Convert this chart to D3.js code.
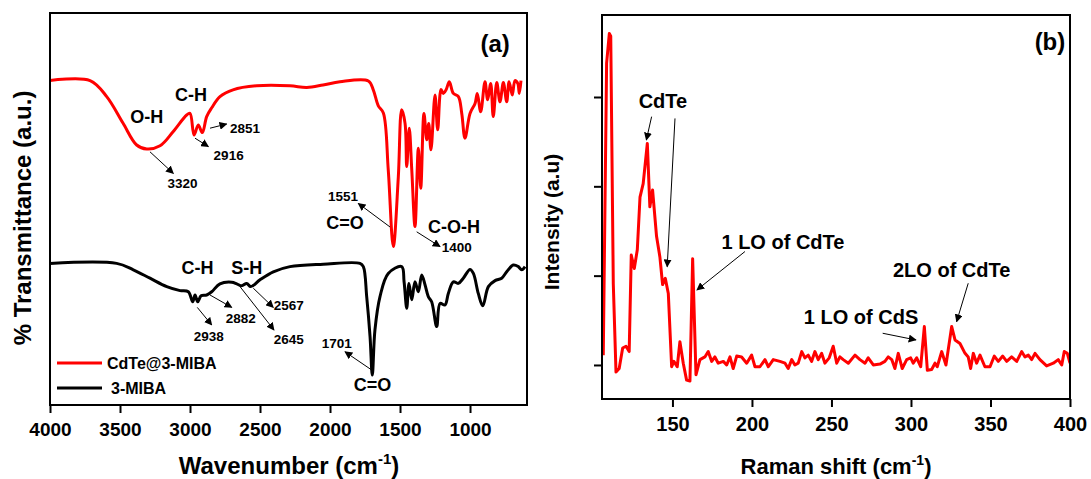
<!DOCTYPE html>
<html>
<head>
<meta charset="utf-8">
<script src="https://cdn.jsdelivr.net/npm/d3@7"></script>
<style>
  body { margin: 0; background: #fff; }
  text { font-family: "Liberation Sans", Arial, sans-serif; font-weight: bold; fill: #000; }
</style>
</head>
<body>
<svg id="chart" width="1091" height="479"></svg>
<script>
// ---- FTIR (panel a) ----
const wn_red = [4000,3714,3595,3479,3381,3309,3214,3121,3024,3000,2971,2941,2912,2881,2845,2786,2693,2524,2286,2166,2050,1929,1726,1691,1655,1619,1584,1548,1512,1488,1464,1452,1434,1416,1393,1369,1352,1329,1309,1295,1279,1250,1231,1207,1191,1171,1148,1119,1083,1059,1036,1000,964,948,924,893,874,852,834,809,786,762,738,721,698,679,659,648,636]
const tr_red = [81.1,81.1,77.1,70.5,65,64,64.8,68.3,72.5,72.9,67.5,70,68.1,72.1,74.3,77.1,78.8,79.8,79.8,79.4,80,80.8,81,78.8,74.8,73,58.8,39.6,57.1,73.8,70.4,59.6,69.2,58.8,44.6,64.2,54.2,72.9,66.3,70.4,63.8,77.5,68.8,78.9,77.9,78.8,80.8,77.9,77.1,72.9,66.7,72.9,75.4,77.9,73.3,80.8,76.3,80.4,72.1,80.6,75.8,80.6,75.8,80.8,77.5,81.1,80.4,77.9,81.1]

const wn_black = [4000,3524,3405,3286,3166,3071,3012,2981,2964,2945,2921,2881,2845,2786,2702,2666,2631,2595,2566,2500,2405,2286,2048,1786,1762,1738,1714,1698,1679,1643,1584,1488,1471,1452,1436,1416,1393,1369,1345,1321,1298,1274,1238,1214,1179,1155,1119,1084,1048,1000,976,941,909,869,821,774,738,691,655,631,607]
const tr_black = [35.4,35.4,33.8,31.7,29.6,28.6,28.3,25.8,27.5,25.8,27.3,27.5,28.3,30.3,30.7,30.3,29.8,30.4,29.6,31.3,33.3,34.6,35.2,35.4,34.6,27.1,17.1,7.5,18.8,27.1,32.9,34.6,30.8,24.2,30.4,26.3,30.8,28.3,32.5,30,27.1,25.8,19.6,25.4,25,27.9,30.8,30.4,31.7,33.9,32.9,27.9,24.8,29.6,31.1,31.7,33.3,35,34.6,33.8,34.6]

const wn_ticks = [4000,3500,3000,2500,2000,1500,1000]
const series_names = ["CdTe@3-MIBA", "3-MIBA"]

// [label, x, y, size]
const ftir_labels = [
  ["O-H", 3309, 72.1, 18], ["C-H", 2993, 77.5, 18],
  ["2851", 2607, 69.2, 13.5], ["2916", 2724, 62.5, 13.5], ["3320", 3054, 55.4, 13.5],
  ["1551", 1907, 52.1, 13.5], ["C=O", 1893, 45.7, 18], ["C-O-H", 1114, 44.6, 18], ["1400", 1095, 39.4, 13.5],
  ["C-H", 2946, 34.3, 18], ["S-H", 2595, 34.3, 18],
  ["2567", 2295, 25, 13.5], ["2882", 2637, 21.7, 13.5], ["2645", 2295, 16.4, 13.5], ["2938", 2866, 17.1, 13.5],
  ["1701", 1952, 15.4, 13.5], ["C=O", 1696, 5, 18], ["(a)", 821, 90.5, 24]
]
// [x1, y1, x2, y2] arrow from curve to label
const ftir_arrows = [
  [2857, 69.2, 2738, 70.25], [2964, 66.7, 2869, 64.6], [3286, 63.3, 3119, 57.9],
  [1571, 44.5, 1798, 50.4], [1381, 43.3, 1214, 39.6],
  [2548, 29.2, 2405, 24.4], [2857, 27.5, 2702, 24.4], [2643, 29.6, 2400, 18.75],
  [2948, 24.4, 2845, 20], [1702, 8.75, 1893, 13.3]
]

// ---- Raman (panel b) ----
const raman_shift = [106.5,108.6,110.3,111.2,112.8,114.5,116.5,118.7,120.8,122.8,124.1,126,127.9,129.6,131.6,134.2,135.8,137.5,140,142.1,143.8,145.5,147.4,149.5,150.9,153,154.7,156.8,158.9,161,162.7,164.8,167.3,170.4,172.5,174.7,176.7,178.8,182,184.1,186.2,188.2,190.4,193.5,196.7,199.8,201.9,205,208.2,210.3,213.4,217.6,220.8,222.8,225,227,229.1,231.3,233.3,235.4,237.5,239.6,241.7,243.8,245.9,248.6,251.1,253.3,255.3,257.4,260.6,264.8,267.9,271.1,273.1,276.3,280.5,283.6,285.7,287.9,289.9,292,294.5,297.3,299.8,301.4,303.6,306.1,308.4,310.3,313,315.1,316.5,319.3,322,325.6,327.7,330.8,334,336,337.5,339.2,341.3,343.4,346.5,349.7,352.4,354.9,357.7,360.2,363.3,366.5,369.6,371.7,373.8,375.9,378,381.1,385.3,389.5,392.6,394.8,396.4,398.3,400]
const raman_int = [0.11,3.38,3.71,3.68,0.91,-0.08,-0.04,0.19,0.21,0.15,
  1.23,1.08,1.29,1.88,2.03,2.48,1.77,1.96,1.44,1.21,
  0.9,0.97,0.8,-0.02,0.04,-0.02,0.26,0.02,-0.17,-0.18,
  1.19,-0.11,0.06,0.09,0.15,0.04,0.09,0.02,0.04,0,
  0.09,-0.04,0.1,0.09,0.02,0.11,-0.02,-0.02,0.06,-0.02,
  0.06,0.04,0.02,-0.04,0.06,0,0.02,0.15,0.08,0.11,
  0.04,0.15,0.06,0.13,0.02,0.08,0.21,0.02,0.09,0.06,
  0.02,0.11,0.06,0.02,0.08,0,0.01,0.04,0.09,0.06,
  -0.04,0.13,-0.04,0.06,0.08,0.02,0.08,-0.02,0.43,-0.06,
  -0.05,0.02,-0.02,0.15,0,0.43,0.28,0.24,0.13,0.09,
  -0.04,0.13,0.02,0.11,-0.02,-0.02,0.1,0.04,0.1,0.04,
  0.09,0.04,0.15,0.09,0.11,0.06,0.13,0.06,-0.01,0.02,
  0.06,0,0.15,0.13,0.02]

const rs_ticks = [150,200,250,300,350,400]
const int_ticks = [0,1,2,3]

const raman_labels = [
  ["CdTe", 144, 2.955, 20], ["1 LO of CdTe", 219.5, 1.38, 20],
  ["2LO of CdTe", 325.6, 1.06, 20], ["1 LO of CdS", 268.6, 0.54, 20], ["(b)", 387.4, 3.62, 24]
]
const raman_arrows = [
  [136.9, 2.78, 133.6, 2.52], [151.6, 2.76, 146.7, 1.10],
  [195.6, 1.27, 165.4, 0.84], [336, 0.915, 328.7, 0.485], [282.2, 0.355, 303.1, 0.28]
]

const svg = d3.select("#chart")
svg.append("rect").attr("width", 1091).attr("height", 479).attr("fill", "#fff")

svg.append("defs").append("marker")
  .attr("id", "head")
  .attr("viewBox", "0 0 10 10")
  .attr("refX", 9).attr("refY", 5)
  .attr("markerWidth", 8).attr("markerHeight", 8)
  .attr("markerUnits", "userSpaceOnUse")
  .attr("orient", "auto")
  .append("path").attr("d", "M0,0 L10,5 L0,10 Z").attr("fill", "#000")

function make_scales_a() {
  return {
    x: d3.scaleLinear().domain([4000, 593]).range([50, 527]),
    y: d3.scaleLinear().domain([0, 98]).range([405, 13])
  }
}

function make_scales_b() {
  return {
    x: d3.scaleLinear().domain([105.7, 400]).range([602, 1070]),
    y: d3.scaleLinear().domain([-0.381, 3.918]).range([399, 15])
  }
}

function draw_frame(g, s) {
  let [x0, x1] = s.x.range(), [y0, y1] = s.y.range()
  g.append("rect")
    .attr("x", x0).attr("y", y1)
    .attr("width", x1 - x0).attr("height", y0 - y1)
    .attr("fill", "none").attr("stroke", "#000").attr("stroke-width", 2)
}

function draw_line(g, xs, ys, s, color, clip, curve) {
  let pts = xs.map((x, i) => [x, ys[i]])
  let path_generator = d3.line()
    .curve(curve)
    .x(d => s.x(d[0]))
    .y(d => s.y(d[1]))
  g.append("path")
    .datum(pts)
    .attr("d", path_generator)
    .attr("clip-path", `url(#${clip})`)
    .attr("fill", "none")
    .attr("stroke", color)
    .attr("stroke-width", 3)
    .attr("stroke-linejoin", "round")
}

function add_clip(id, s) {
  let [x0, x1] = s.x.range(), [y0, y1] = s.y.range()
  svg.select("defs").append("clipPath").attr("id", id)
    .append("rect").attr("x", x0).attr("y", y1).attr("width", x1 - x0).attr("height", y0 - y1)
}

function draw_x_axis(g, s, ticks, minor, fontSize) {
  let y0 = s.y.range()[0]
  let ax = g.append("g").attr("transform", `translate(0, ${y0})`)
  ax.call(d3.axisBottom(s.x).tickValues(minor).tickSize(5).tickFormat(""))
  ax.call(d3.axisBottom(s.x).tickValues(ticks).tickSize(8).tickPadding(6).tickFormat(d3.format("d")))
  ax.select(".domain").remove()
  ax.selectAll("line").attr("stroke", "#000").attr("stroke-width", 2)
  ax.selectAll("text").attr("font-size", fontSize).attr("dy", "0.9em")
    .style("font-family", '"Liberation Sans", Arial, sans-serif').style("font-weight", "bold")
}

function draw_labels(g, s, labels) {
  g.selectAll(null).data(labels).enter().append("text")
    .attr("x", d => s.x(d[1]))
    .attr("y", d => s.y(d[2]))
    .attr("dy", "0.36em")
    .attr("text-anchor", "middle")
    .attr("font-size", d => d[3])
    .text(d => d[0])
}

function draw_arrows(g, s, arrows) {
  g.selectAll(null).data(arrows).enter().append("line")
    .attr("x1", d => s.x(d[0])).attr("y1", d => s.y(d[1]))
    .attr("x2", d => s.x(d[2])).attr("y2", d => s.y(d[3]))
    .attr("stroke", "#000").attr("stroke-width", 1)
    .attr("marker-end", "url(#head)")
}

function axis_title(x, y, size, main, rotate) {
  let t = svg.append("text")
    .attr("text-anchor", "middle")
    .attr("font-size", size)
    .attr("transform", `translate(${x}, ${y})` + (rotate ? " rotate(-90)" : ""))
  t.append("tspan").text(main)
  return t
}

function visualize_a() {
  let s = make_scales_a()
  let g = svg.append("g")
  add_clip("clipA", s)
  let smooth = d3.curveCatmullRom.alpha(0.5)
  draw_line(g, wn_red, tr_red, s, "#ff0000", "clipA", smooth)
  draw_line(g, wn_black, tr_black, s, "#000000", "clipA", smooth)
  draw_frame(g, s)
  let minor = d3.range(3750, 593, -500)
  draw_x_axis(g, s, wn_ticks, minor, 19)
  draw_labels(g, s, ftir_labels)
  draw_arrows(g, s, ftir_arrows)

  // legend
  let lg = g.append("g")
  let colors = ["#ff0000", "#000000"]
  series_names.forEach((name, i) => {
    let yy = 363 + i * 25
    lg.append("line").attr("x1", 57).attr("x2", 102).attr("y1", yy).attr("y2", yy)
      .attr("stroke", colors[i]).attr("stroke-width", 3)
    lg.append("text").attr("x", 107 + i * 4).attr("y", yy).attr("dy", "0.36em")
      .attr("font-size", 16).text(name)
  })

  let t = axis_title(289, 474, 24, "Wavenumber (cm")
  t.append("tspan").attr("font-size", 15).attr("dy", -10).text("-1")
  t.append("tspan").attr("dy", 10).text(")")
  axis_title(31, 218, 24, "% Transmittance (a.u.)", true)
}

function visualize_b() {
  let s = make_scales_b()
  let g = svg.append("g")
  add_clip("clipB", s)
  draw_line(g, raman_shift, raman_int, s, "#ff0000", "clipB", d3.curveLinear)
  draw_frame(g, s)
  draw_x_axis(g, s, rs_ticks, [125, 175, 225, 275, 325, 375], 20)

  let ay = g.append("g").attr("transform", `translate(${s.x.range()[0]}, 0)`)
  ay.call(d3.axisLeft(s.y).tickValues(int_ticks).tickSize(8).tickFormat(""))
  ay.select(".domain").remove()
  ay.selectAll("line").attr("stroke", "#000").attr("stroke-width", 2)

  draw_labels(g, s, raman_labels)
  draw_arrows(g, s, raman_arrows)

  let t = axis_title(836, 474, 22, "Raman shift (cm")
  t.append("tspan").attr("font-size", 14).attr("dy", -9).text("-1")
  t.append("tspan").attr("dy", 9).text(")")
  axis_title(559, 222, 21, "Intensity (a.u)", true)
}

visualize_a()
visualize_b()
</script>
</body>
</html>
